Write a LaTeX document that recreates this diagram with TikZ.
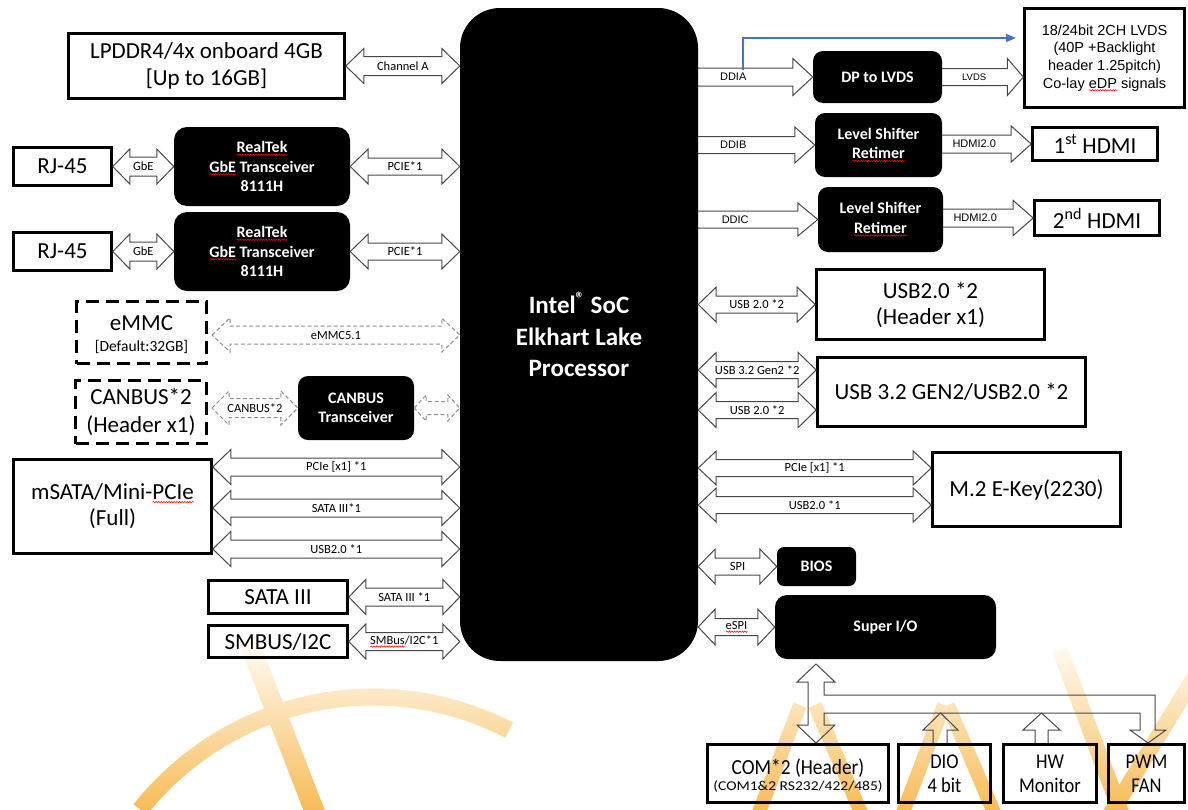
\documentclass[tikz,border=0pt]{standalone}
\usepackage{fontspec}
\setmainfont{Carlito}
\newfontfamily\arial{Liberation Sans}
\usepackage{graphicx}
\usetikzlibrary{calc,arrows.meta,decorations.pathmorphing}
\definecolor{wmtop}{RGB}{255,252,247}
\definecolor{wmmid}{RGB}{253,236,210}
\definecolor{wmbot}{RGB}{247,188,88}
\definecolor{arrline}{RGB}{70,70,70}
\definecolor{dashgray}{RGB}{140,140,140}
\definecolor{lineblue}{RGB}{68,114,196}
\newdimen\sqw
\newcommand\sq[1]{\leavevmode\setbox0=\hbox{#1}\sqw=\wd0\relax\rlap{\raisebox{-3.2pt}{\tikz[sharp corners]\draw[draw=red, fill=none, sharp corners, line width=0.55pt, decorate, decoration={snake, amplitude=0.7pt, segment length=2.6pt}] (0pt,0pt) -- (\sqw,0pt);}}\box0\relax}
\newcounter{lbl}
% double block arrow: style, start, end, head half height, body half height, head length, label
\newcommand\dbar[7]{%
  \path #2 coordinate (dA) #3 coordinate (dB);
  \draw[barrow,#1] let \p1=(dA), \p2=(dB) in
    (\x1,\y1) -- (\x1+#6,\y1+#4) -- (\x1+#6,\y1+#5) -- (\x2-#6,\y1+#5) -- (\x2-#6,\y1+#4)
    -- (\x2,\y1) -- (\x2-#6,\y1-#4) -- (\x2-#6,\y1-#5) -- (\x1+#6,\y1-#5) -- (\x1+#6,\y1-#4) -- cycle;
  \stepcounter{lbl}%
  \node[alab] (lbl\thelbl) at ($(dA)!0.5!(dB)$) {#7};}
% single block arrow: start, end, head half height, body half height, head length, label, label shift
\newcommand\sar[7]{%
  \path #1 coordinate (dA) #2 coordinate (dB);
  \draw[barrow] let \p1=(dA), \p2=(dB) in
    (\x1,\y1+#4) -- (\x2-#5,\y1+#4) -- (\x2-#5,\y1+#3) -- (\x2,\y1)
    -- (\x2-#5,\y1-#3) -- (\x2-#5,\y1-#4) -- (\x1,\y1-#4);
  \stepcounter{lbl}%
  \node[alab2] (lbl\thelbl) at ([xshift=#7]dA) {#6};}
% watermark stroke
\newcommand\wmshade{\shade[top color=wmtop, middle color=wmmid, bottom color=wmbot] (0,640) rectangle (1188,809);}
\newcommand\wmline[3]{%
  \begin{scope}
    \clip ($#1!#3!90:#2$) -- ($#2!#3!-90:#1$) -- ($#2!#3!90:#1$) -- ($#1!#3!-90:#2$) -- cycle;
    \wmshade
  \end{scope}}
\begin{document}
\begin{tikzpicture}[x=1pt,y=-1pt,
  wbox/.style={draw, line width=2.6pt, inner sep=0pt, align=center, font=\fontsize{23}{27}\selectfont},
  dbox/.style={wbox, line width=3pt, dash pattern=on 13pt off 7pt},
  kbox/.style={fill=black, draw=none, rounded corners=10pt, inner sep=0pt, align=center, text=white,
    font=\bfseries\fontsize{16}{19.5}\selectfont},
  bbox/.style={wbox, font=\fontsize{21}{24}\selectfont},
  txt/.style={inner sep=0pt, align=center},
  barrow/.style={draw=arrline, line width=1pt},
  darrow/.style={draw=dashgray, dash pattern=on 4pt off 2.5pt},
  alab/.style={inner sep=0pt, font=\fontsize{12.5}{14}\selectfont},
  alab2/.style={inner sep=0pt, font=\arial\fontsize{11}{13}\selectfont},
  blueline/.style={draw=lineblue, line width=1.3pt, -{Triangle[length=10pt,width=8pt]}}
]
\useasboundingbox (0,0) rectangle (1188,809);

% ---------- watermark ----------
\wmline{(248,640)}{(316,815)}{10pt}
\begin{scope}
  \clip plot[domain=-141.6:-62.7, samples=50] ({373+305.5*cos(\x)},{994+305.5*sin(\x)})
     -- plot[domain=-62.7:-141.6, samples=50] ({373+288.5*cos(\x)},{994+288.5*sin(\x)}) -- cycle;
  \wmshade
\end{scope}
\wmline{(800,705)}{(758,815)}{7pt}
\wmline{(815,705)}{(862,815)}{7pt}
\wmline{(944,705)}{(902,815)}{7pt}
\wmline{(948,705)}{(995,815)}{7pt}
\wmline{(1060,650)}{(1122,815)}{8pt}
\wmline{(1200,668)}{(1110,815)}{8pt}

% ---------- CPU ----------
\node[kbox, minimum width=238pt, minimum height=653pt, rounded corners=40pt,
  font=\bfseries\fontsize{25}{31.5}\selectfont] (cpu) at (579,334.5)
  {Intel\textsuperscript{®} SoC\\Elkhart Lake\\Processor};

% ---------- left side ----------
\node[wbox, minimum width=276pt, minimum height=65pt] (lp) at (206.5,66)
  {LPDDR4/4x onboard 4GB\\{}[Up to 16GB]};
\node[wbox, minimum width=98pt, minimum height=38pt] (rj1) at (62.5,166.5) {RJ-45};
\node[kbox, minimum width=176pt, minimum height=79pt, rounded corners=13pt] (rt1) at (262,166.5)
  {\sq{RealTek}\\\sq{GbE} Transceiver\\8111H};
\node[wbox, minimum width=98pt, minimum height=38pt] (rj2) at (62.5,251.5) {RJ-45};
\node[kbox, minimum width=176pt, minimum height=79pt, rounded corners=13pt] (rt2) at (262,251.5)
  {\sq{RealTek}\\\sq{GbE} Transceiver\\8111H};
\node[dbox, minimum width=130pt, minimum height=62pt] (emmc) at (141.5,332.5) {};
\node[txt, font=\fontsize{23}{27}\selectfont] (emmcA) at (141.5,323) {eMMC};
\node[txt, font=\fontsize{15.5}{18}\selectfont] (emmcB) at (141.5,347) {[Default:32GB]};
\node[dbox, minimum width=131pt, minimum height=63pt, font=\fontsize{23}{28.5}\selectfont] (canbus) at (141,412)
  {CANBUS*2\\(Header x1)};
\node[kbox, minimum width=116pt, minimum height=64pt] (cant) at (356,408) {CANBUS\\Transceiver};
\node[wbox, minimum width=198pt, minimum height=94pt, font=\fontsize{23}{26}\selectfont] (msata) at (112.5,506.5)
  {mSATA/Mini-\sq{PCIe}\\(Full)};
\node[wbox, minimum width=139pt, minimum height=33pt] (sata) at (278,597) {SATA III};
\node[wbox, minimum width=139pt, minimum height=32pt] (smbus) at (278,641.5) {SMBUS/I2C};

\coordinate (m1) at ([yshift=39.5pt]msata.east);
\coordinate (m2c) at ([yshift=-1.5pt]msata.east);
\coordinate (m3) at ([yshift=-42.5pt]msata.east);
\coordinate (em) at ([xshift=4pt,yshift=-2.5pt]emmc.east);

\dbar{}{(lp.east)}{(cpu.west |- lp.east)}{17.5pt}{9.5pt}{18pt}{Channel A}
\dbar{}{(rj1.east)}{(rt1.west)}{17.5pt}{9.5pt}{17pt}{GbE}
\dbar{}{(rt1.east)}{(cpu.west |- rt1.east)}{17.5pt}{8.5pt}{18pt}{PCIE*1}
\dbar{}{(rj2.east)}{(rt2.west)}{17.5pt}{9.5pt}{17pt}{GbE}
\dbar{}{(rt2.east)}{(cpu.west |- rt2.east)}{17.5pt}{8.5pt}{18pt}{PCIE*1}
\dbar{darrow}{(em)}{(cpu.west |- em)}{17pt}{9pt}{18pt}{eMMC5.1}
\dbar{darrow}{([xshift=4pt]canbus.east |- cant.west)}{(cant.west)}{17pt}{9.5pt}{17pt}{CANBUS*2}
\dbar{darrow}{(cant.east)}{(cpu.west |- cant.east)}{13pt}{6.5pt}{12pt}{}
\dbar{}{(m1)}{(cpu.west |- m1)}{17.5pt}{9pt}{18pt}{PCIe [x1] *1}
\dbar{}{(m2c)}{(cpu.west |- m2c)}{17.5pt}{9pt}{18pt}{SATA III*1}
\dbar{}{(m3)}{(cpu.west |- m3)}{17.5pt}{9pt}{18pt}{USB2.0 *1}
\dbar{}{(sata.east)}{(cpu.west |- sata.east)}{17.5pt}{9pt}{17pt}{SATA III *1}
\dbar{}{(smbus.east)}{(cpu.west |- smbus.east)}{17.5pt}{9pt}{17pt}{\sq{SMBus}/I2C*1}

% ---------- right side ----------
\node[kbox, minimum width=129pt, minimum height=52pt] (dp) at (877.5,77) {DP to LVDS};
\node[wbox, line width=2.3pt, minimum width=160pt, minimum height=99pt,
  font=\arial\fontsize{14.5}{17.6}\selectfont] (lvdsbox) at (1104.5,58)
  {18/24bit 2CH LVDS\\(40P +Backlight\\header 1.25pitch)\\Co-lay \sq{eDP} signals};
\node[kbox, minimum width=127pt, minimum height=64pt] (ls1) at (878.5,145) {Level Shifter\\\sq{Retimer}};
\node[wbox, minimum width=125pt, minimum height=33pt] (hdmi1) at (1095,144) {1\textsuperscript{st} HDMI};
\node[kbox, minimum width=125pt, minimum height=65pt] (ls2) at (880.5,219.5) {Level Shifter\\\sq{Retimer}};
\node[wbox, minimum width=125pt, minimum height=35pt] (hdmi2) at (1097,218) {2\textsuperscript{nd} HDMI};
\node[wbox, minimum width=228pt, minimum height=70pt, font=\fontsize{23}{26}\selectfont] (usb2) at (930.5,304.5)
  {USB2.0 *2\\(Header x1)};
\node[wbox, minimum width=268pt, minimum height=69pt] (usb3) at (951.5,392) {USB 3.2 GEN2/USB2.0 *2};
\node[wbox, minimum width=188pt, minimum height=74pt] (m2) at (1026.5,489.5) {M.2 E-Key(2230)};
\node[kbox, minimum width=79pt, minimum height=39pt, rounded corners=7pt] (bios) at (816.5,566.5) {BIOS};
\node[kbox, minimum width=221pt, minimum height=64pt, rounded corners=12pt] (sio) at (885.5,627) {Super I/O};

\coordinate (u1) at ([yshift=22pt]usb3.west);
\coordinate (u2) at ([yshift=-18pt]usb3.west);
\coordinate (k1) at ([yshift=21.5pt]m2.west);
\coordinate (k2) at ([yshift=-15.5pt]m2.west);

\sar{(cpu.east |- dp.west)}{(dp.west)}{18.5pt}{9pt}{20pt}{DDIA}{35pt}
\sar{(dp.east)}{(lvdsbox.west |- dp.east)}{18.5pt}{8.5pt}{16pt}{{\fontsize{9.5}{11}\selectfont LVDS}}{32pt}
\sar{(cpu.east |- ls1.west)}{(ls1.west)}{18pt}{8.5pt}{20pt}{DDIB}{35pt}
\sar{(ls1.east |- hdmi1.west)}{(hdmi1.west)}{18pt}{9pt}{20pt}{HDMI2.0}{32pt}
\sar{(cpu.east |- ls2.west)}{(ls2.west)}{16.5pt}{8.5pt}{20pt}{DDIC}{37pt}
\sar{(ls2.east |- hdmi2.west)}{(hdmi2.west)}{17.5pt}{9pt}{20pt}{HDMI2.0}{32pt}

\coordinate (bl1) at (743,69.5);
\coordinate (bl2) at (1016,38);
\draw[blueline] (bl1) |- (bl2);

\dbar{}{(cpu.east |- usb2.west)}{(usb2.west)}{17.5pt}{8.5pt}{18pt}{USB 2.0 *2}
\dbar{}{(cpu.east |- u1)}{(u1)}{17.5pt}{8.5pt}{18pt}{USB 3.2 Gen2 *2}
\dbar{}{(cpu.east |- u2)}{(u2)}{17.5pt}{8.5pt}{18pt}{USB 2.0 *2}
\dbar{}{(cpu.east |- k1)}{(k1)}{17pt}{8.5pt}{18pt}{PCIe [x1] *1}
\dbar{}{(cpu.east |- k2)}{(k2)}{17pt}{8.5pt}{18pt}{USB2.0 *1}
\dbar{}{(cpu.east |- bios.west)}{(bios.west)}{17.5pt}{8.5pt}{17pt}{SPI}
\dbar{}{(cpu.east |- sio.west)}{(sio.west)}{18pt}{8.5pt}{17pt}{\sq{eSPI}}

% ---------- bottom ----------
\node[wbox, minimum width=181pt, minimum height=58pt] (com) at (798,773.5) {};
\node[txt, font=\fontsize{21.5}{24}\selectfont] (comA) at (798,768) {\scalebox{0.9}[1]{COM*2 (Header)}};
\node[txt, font=\fontsize{13.5}{15}\selectfont] (comB) at (798,786.5) {\scalebox{1.15}[1]{(COM1\&2 RS232/422/485)}};
\node[bbox, minimum width=92pt, minimum height=58pt] (dio) at (944.5,773.5)
  {\scalebox{0.88}[1]{DIO}\\\scalebox{0.88}[1]{4 bit}};
\node[bbox, minimum width=93pt, minimum height=58pt] (hw) at (1050,773.5)
  {\scalebox{0.88}[1]{HW}\\\scalebox{0.88}[1]{Monitor}};
\node[bbox, minimum width=76pt, minimum height=58pt] (pwm) at (1146.5,773.5)
  {\scalebox{0.88}[1]{PWM}\\\scalebox{0.88}[1]{FAN}};

\coordinate (vtop) at (816,664);
\coordinate (vbot) at (816,743);
\draw[barrow] (vtop) -- ++(19,18) -- ++(-11,0) -- (824,695) -- (1155,695) -- (1155,730) -- (1166,730)
  -- (1148,743) -- (1130,730) -- (1140,730) -- (1140,713) -- (824,713) -- (824,725) -- (835,725)
  -- (vbot) -- (797,725) -- (808,725) -- (808,682) -- (797,682) -- cycle;
\draw[barrow] (933,743) -- (933,730) -- (923,730) -- (940.5,713) -- (958,730) -- (947,730) -- (947,743);
\draw[barrow] (1035,743) -- (1035,730) -- (1023,730) -- (1041.5,713) -- (1060,730) -- (1048,730) -- (1048,743);
\end{tikzpicture}
\end{document}
